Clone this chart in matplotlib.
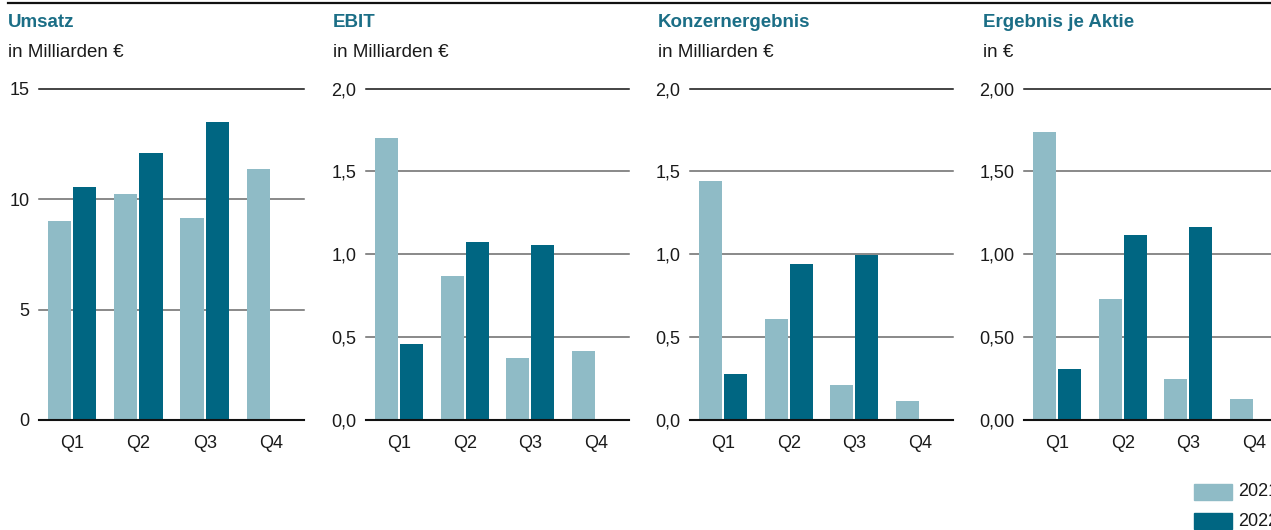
import matplotlib
matplotlib.use("Agg")
import matplotlib.pyplot as plt
import numpy as np
from matplotlib.lines import Line2D
from matplotlib.patches import Rectangle

plt.rcParams['font.family'] = ['Liberation Sans', 'DejaVu Sans']

quarters = ["Q1", "Q2", "Q3", "Q4"]
years = ["2021", "2022"]

umsatz_2021 = [9.02, 10.23, 9.15, 11.36]
umsatz_2022 = [10.55, 12.08, 13.48, None]
ebit_2021 = [1.70, 0.866, 0.373, 0.415]
ebit_2022 = [0.461, 1.076, 1.058, None]
konzern_2021 = [1.443, 0.607, 0.21, 0.114]
konzern_2022 = [0.277, 0.944, 0.994, None]
eps_2021 = [1.737, 0.727, 0.246, 0.126]
eps_2022 = [0.307, 1.118, 1.166, None]

titles = ["Umsatz", "EBIT", "Konzernergebnis", "Ergebnis je Aktie"]
subtitles = ["in Milliarden €", "in Milliarden €", "in Milliarden €", "in €"]
yticks_list = [[0, 5, 10, 15], [0, 0.5, 1.0, 1.5, 2.0], [0, 0.5, 1.0, 1.5, 2.0],
               [0, 0.5, 1.0, 1.5, 2.0]]
ylabels_list = [["0", "5", "10", "15"],
                ["0,0", "0,5", "1,0", "1,5", "2,0"],
                ["0,0", "0,5", "1,0", "1,5", "2,0"],
                ["0,00", "0,50", "1,00", "1,50", "2,00"]]
series = [(umsatz_2021, umsatz_2022), (ebit_2021, ebit_2022),
          (konzern_2021, konzern_2022), (eps_2021, eps_2022)]

LIGHT = "#8fbbc6"
DARK = "#006682"
TITLE_C = "#1b6e86"
GRID_C = "#6a6a6a"
TEXT_C = "#1a1a1a"

W, H = 1271, 530
fig = plt.figure(figsize=(W / 100, H / 100), dpi=100)

ax_left_px = [39, 366, 690, 1024]
ax_w_px = [265, 263, 263, 263]
title_x_px = [8, 333, 658, 983]
y0_px, ytop_px = 420, 88.5

fs_tick = 13
fs_sub = 13.5
fs_title = 13.5
x = np.arange(len(quarters))
bw = 0.35
off = 0.19

for i in range(4):
    ax = fig.add_axes([ax_left_px[i] / W, (H - y0_px) / H, ax_w_px[i] / W,
                       (y0_px - ytop_px) / H])
    s21, s22 = series[i]
    ax.bar(x - off, s21, width=bw, color=LIGHT, zorder=3)
    x22 = [xx + off for xx, v in zip(x, s22) if v is not None]
    v22 = [v for v in s22 if v is not None]
    ax.bar(x22, v22, width=bw, color=DARK, zorder=3)
    ax.set_xlim(-0.5, 3.5)
    yt = yticks_list[i]
    ax.set_ylim(0, yt[-1])
    ax.set_yticks(yt)
    ax.set_yticklabels(ylabels_list[i], fontsize=fs_tick, color=TEXT_C)
    ax.set_xticks(x)
    ax.set_xticklabels(quarters, fontsize=fs_tick, color=TEXT_C)
    ax.tick_params(axis='y', length=0, pad=7)
    ax.tick_params(axis='x', length=0, pad=11)
    for sp in ax.spines.values():
        sp.set_visible(False)
    for v in yt[1:]:
        ax.axhline(v, color=("#111111" if v == yt[-1] else GRID_C), lw=1.1,
                   zorder=1, clip_on=False)
    ax.axhline(0, color="#111111", lw=1.5, zorder=4, clip_on=False)
    ax.patch.set_visible(False)

    fig.text(title_x_px[i] / W, 1 - 27 / H, titles[i], fontsize=fs_title,
             fontweight='bold', color=TITLE_C, ha='left', va='baseline')
    fig.text(title_x_px[i] / W, 1 - 57 / H, subtitles[i], fontsize=fs_sub,
             color=TEXT_C, ha='left', va='baseline')

# top rule
fig.add_artist(Line2D([8 / W, 1.0], [1 - 2.5 / H, 1 - 2.5 / H],
                      color="#111111", lw=1.6, transform=fig.transFigure))

# legend (cropped at the right edge, as in the reference)
leg_colors = [LIGHT, DARK]
leg_y_px = [484, 513]
for c, yy, lab in zip(leg_colors, leg_y_px, years):
    fig.add_artist(Rectangle((1194 / W, 1 - (yy + 16) / H), 38 / W, 16 / H,
                             color=c, transform=fig.transFigure))
    fig.text(1238 / W, 1 - (yy + 8) / H, lab, fontsize=fs_tick, color=TEXT_C,
             ha='left', va='center')

fig.savefig("out.png", dpi=100)
